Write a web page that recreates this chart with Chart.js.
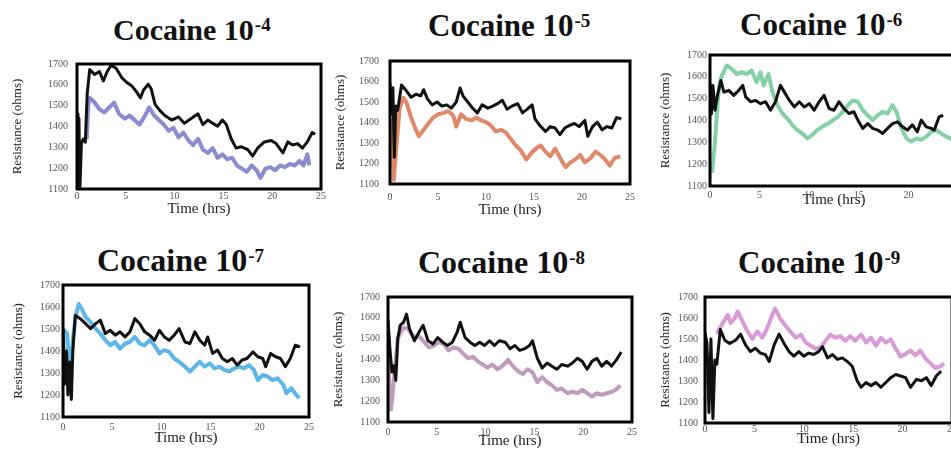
<!DOCTYPE html>
<html>
<head>
<meta charset="utf-8" />
<title>Cocaine resistance</title>
<style>
  body { margin:0; width:951px; height:455px; overflow:hidden; background:#fff; position:relative; }
  canvas { position:absolute; }
  .ttl { position:absolute; font-family:'Liberation Serif', 'Times New Roman', serif; font-weight:bold;
         line-height:30px; white-space:nowrap; color:#111; }
  .ttl sup { font-size:19px; vertical-align:baseline; position:relative; top:-9px; margin-left:1px; }
</style>
</head>
<body>
<div class="ttl" style="left:113px;top:15px;font-size:30px">Cocaine 10<sup>-4</sup></div>
<div class="ttl" style="left:428px;top:11px;font-size:31px">Cocaine 10<sup>-5</sup></div>
<div class="ttl" style="left:740px;top:10px;font-size:31px">Cocaine 10<sup>-6</sup></div>
<div class="ttl" style="left:97px;top:245px;font-size:32px">Cocaine 10<sup>-7</sup></div>
<div class="ttl" style="left:418px;top:247px;font-size:32px">Cocaine 10<sup>-8</sup></div>
<div class="ttl" style="left:738px;top:248px;font-size:31px">Cocaine 10<sup>-9</sup></div>

<canvas id="c1"></canvas>
<canvas id="c2"></canvas>
<canvas id="c3"></canvas>
<canvas id="c4"></canvas>
<canvas id="c5"></canvas>
<canvas id="c6"></canvas>

<script src="https://cdn.jsdelivr.net/npm/chart.js@4.4.1/dist/chart.umd.min.js"></script>
<script>
// tick labels
const timeTicks = [0, 5, 10, 15, 20, 25];
const ohmTicks = [1100, 1200, 1300, 1400, 1500, 1600, 1700];

// 10^-4 : black control, purple
const p1BlackT = [0,0.1,0.2,0.3,0.45,0.65,0.85,1.05,1.3,1.8,2.3,2.7,3.1,3.5,4.0,4.6,5.1,5.6,6.1,6.5,6.8,7.3,7.6,8.0,8.5,9.0,9.7,10.4,11.0,11.7,12.4,12.9,13.4,13.9,14.4,14.9,15.3,15.8,16.3,16.8,17.5,18.0,18.5,19.2,19.9,20.4,21.1,21.6,22.1,22.6,23.1,23.6,24.1,24.4];
const p1BlackR = [1460,1120,1440,1105,1320,1340,1325,1560,1673,1650,1664,1619,1664,1694,1680,1634,1611,1596,1566,1537,1574,1603,1581,1506,1476,1453,1431,1446,1416,1438,1461,1409,1431,1416,1401,1431,1409,1341,1296,1303,1289,1258,1296,1326,1333,1318,1273,1326,1311,1318,1296,1326,1371,1363];
const p1ColT = [1.0,1.15,1.3,1.8,2.3,2.8,3.3,3.8,4.3,4.9,5.4,5.9,6.4,6.9,7.4,7.9,8.4,8.9,9.4,9.9,10.4,10.9,11.4,11.9,12.4,12.9,13.4,13.9,14.4,14.9,15.4,15.9,16.4,16.9,17.4,17.9,18.4,18.8,19.3,19.8,20.3,20.8,21.3,21.8,22.3,22.8,23.2,23.6,23.8];
const p1ColR = [1340,1500,1537,1515,1483,1468,1491,1515,1461,1438,1453,1431,1409,1446,1491,1453,1431,1409,1379,1394,1348,1371,1334,1311,1341,1289,1273,1296,1250,1266,1243,1250,1213,1198,1183,1213,1190,1153,1198,1205,1190,1213,1205,1220,1213,1235,1213,1266,1213];

// 10^-5 : black, orange
const p2BlackT = [0,0.15,0.3,0.45,0.6,0.8,1.2,1.7,2.2,2.7,3.2,3.5,3.9,4.4,4.9,5.4,5.9,6.4,6.9,7.3,7.6,8.1,8.6,9.1,9.6,10.2,10.7,11.2,11.7,12.2,12.7,13.3,13.8,14.3,14.8,15.1,15.6,16.2,16.7,17.2,17.7,18.2,18.7,19.2,19.7,20.3,20.6,21.1,21.6,22.1,22.6,23.1,23.6,24.1];
const p2BlackR = [1590,1440,1570,1230,1480,1460,1583,1555,1523,1538,1530,1560,1515,1486,1500,1480,1486,1470,1500,1568,1530,1500,1470,1447,1486,1470,1480,1492,1508,1465,1480,1492,1447,1465,1486,1418,1386,1356,1380,1373,1341,1373,1386,1395,1380,1410,1333,1380,1402,1364,1380,1373,1424,1418];
const p2ColT = [0,0.2,0.4,0.7,1.0,1.4,1.7,2.2,2.7,3.0,3.5,4.0,4.5,5.0,5.6,6.1,6.6,6.9,7.4,7.9,8.5,9.0,9.5,10.0,10.5,11.0,11.6,12.1,12.6,13.1,13.6,14.2,14.7,15.2,15.7,16.2,16.7,17.2,17.8,18.3,18.8,19.3,19.8,20.3,20.9,21.4,21.9,22.4,22.9,23.4,24.0];
const p2ColR = [1420,1350,1120,1300,1470,1520,1500,1424,1364,1333,1364,1395,1424,1440,1447,1455,1432,1380,1440,1418,1410,1424,1410,1402,1386,1356,1364,1350,1318,1288,1265,1220,1250,1273,1288,1258,1235,1273,1220,1182,1205,1220,1242,1205,1227,1258,1242,1220,1190,1227,1235];

// 10^-6 : black, green
const p3BlackT = [0,0.15,0.3,0.5,0.75,1.1,1.4,1.9,2.4,2.9,3.3,3.6,4.1,4.6,5.1,5.6,6.1,6.6,7.1,7.5,8.0,8.5,9.0,9.5,10.0,10.5,11.0,11.5,12.0,12.5,13.0,13.5,14.0,14.5,15.0,15.4,15.9,16.4,16.9,17.4,17.9,18.4,18.9,19.4,19.9,20.4,20.9,21.3,21.8,22.3,22.6,23.1,23.5];
const p3BlackR = [1570,1430,1560,1447,1515,1583,1530,1538,1515,1538,1561,1508,1486,1492,1477,1486,1447,1486,1561,1530,1492,1462,1486,1462,1477,1447,1486,1515,1455,1447,1486,1455,1432,1440,1394,1364,1386,1364,1356,1341,1364,1386,1394,1371,1356,1380,1348,1402,1371,1364,1356,1417,1424];
const p3ColT = [0.2,0.5,0.8,1.0,1.2,1.7,2.2,2.7,3.2,3.7,4.2,4.7,5.1,5.4,5.9,6.3,6.8,7.3,7.8,8.3,8.8,9.3,9.8,10.3,10.8,11.3,11.9,12.4,12.9,13.4,13.9,14.4,14.9,15.4,15.9,16.4,16.9,17.4,17.9,18.4,18.8,19.3,19.8,20.3,20.8,21.3,21.8,22.3,22.8,23.3,23.8,24.2,24.8];
const p3ColR = [1160,1300,1500,1580,1606,1652,1636,1613,1621,1613,1629,1576,1621,1561,1613,1530,1470,1432,1409,1379,1356,1341,1318,1333,1356,1371,1386,1402,1417,1440,1470,1492,1486,1447,1424,1402,1424,1440,1432,1470,1440,1364,1318,1303,1318,1311,1326,1348,1356,1341,1326,1318,1300];

// 10^-7 : black, blue
const p4BlackT = [0,0.2,0.35,0.5,0.7,0.85,1.0,1.25,1.75,2.3,2.8,3.3,3.8,4.3,4.8,5.3,5.8,6.3,6.8,7.3,7.8,8.3,8.8,9.3,9.8,10.3,10.8,11.3,11.8,12.4,12.9,13.4,13.9,14.4,14.7,15.2,15.7,16.2,16.7,17.2,17.7,18.2,18.7,19.3,19.8,20.3,20.6,21.1,21.6,22.1,22.6,23.1,23.6,24.1];
const p4BlackR = [1500,1250,1400,1200,1350,1180,1400,1562,1547,1524,1502,1524,1540,1479,1494,1472,1487,1464,1487,1547,1524,1487,1472,1449,1494,1464,1449,1472,1502,1441,1434,1487,1449,1426,1464,1389,1404,1366,1351,1366,1336,1359,1366,1396,1374,1366,1329,1389,1374,1366,1329,1366,1426,1419];
const p4ColT = [0,0.4,0.7,1.0,1.3,1.6,1.9,2.3,2.8,3.3,3.8,4.3,4.8,5.3,5.8,6.3,6.8,7.3,7.8,8.3,8.8,9.3,9.8,10.3,10.8,11.3,11.8,12.4,12.9,13.4,13.9,14.4,14.9,15.4,15.9,16.4,16.9,17.4,17.9,18.4,18.9,19.4,19.8,20.3,20.8,21.3,21.8,22.4,22.7,23.2,23.7,24.0];
const p4ColR = [1500,1480,1300,1450,1560,1614,1592,1554,1532,1502,1479,1449,1426,1441,1411,1434,1441,1464,1434,1426,1449,1426,1389,1404,1396,1366,1351,1329,1307,1329,1351,1329,1344,1321,1329,1314,1307,1321,1329,1321,1336,1314,1268,1291,1284,1268,1276,1246,1208,1231,1201,1186];

// 10^-8 : black, mauve
const p5BlackT = [0,0.2,0.4,0.6,0.8,1.0,1.25,1.6,1.9,2.2,2.7,3.2,3.6,4.1,4.6,5.1,5.6,6.1,6.6,7.1,7.4,7.9,8.4,8.9,9.4,9.9,10.4,10.9,11.4,12.0,12.5,13.0,13.5,14.0,14.5,14.8,15.3,15.8,16.3,16.8,17.3,17.8,18.4,18.9,19.4,19.9,20.4,20.9,21.4,21.9,22.4,22.9,23.4,23.9];
const p5BlackR = [1590,1450,1340,1370,1300,1500,1564,1579,1618,1548,1490,1533,1564,1490,1475,1505,1483,1467,1483,1533,1579,1505,1483,1467,1483,1467,1490,1467,1490,1483,1452,1467,1444,1452,1467,1490,1406,1359,1383,1368,1353,1376,1368,1383,1406,1391,1353,1391,1406,1368,1391,1368,1398,1436];
const p5ColT = [0,0.3,0.6,1.0,1.5,2.0,2.7,3.2,3.7,4.2,4.7,5.2,5.7,6.2,6.7,7.2,7.7,8.2,8.7,9.2,9.7,10.2,10.7,11.2,11.7,12.3,12.8,13.3,13.8,14.3,14.8,15.3,15.8,16.3,16.8,17.3,17.8,18.4,18.9,19.4,19.9,20.4,20.9,21.4,21.9,22.4,23.0,23.5,23.8];
const p5ColR = [1400,1160,1300,1500,1550,1550,1504,1511,1483,1458,1467,1483,1475,1444,1458,1452,1428,1406,1413,1391,1376,1361,1376,1353,1368,1398,1368,1345,1330,1353,1338,1291,1315,1291,1276,1254,1261,1238,1246,1238,1254,1238,1222,1238,1230,1238,1246,1261,1276];

// 10^-9 : black, pink
const p6BlackT = [0,0.2,0.4,0.6,0.8,1.0,1.2,1.55,2.0,2.5,3.1,3.6,4.1,4.6,5.1,5.6,6.1,6.5,7.0,7.5,8.0,8.5,9.0,9.5,10.0,10.5,11.0,11.5,11.9,12.4,12.9,13.4,13.9,14.4,14.9,15.4,15.8,16.3,16.8,17.3,17.8,18.3,18.8,19.3,19.8,20.3,20.8,21.4,21.9,22.4,22.9,23.4,23.9];
const p6BlackR = [1530,1480,1150,1500,1120,1400,1380,1545,1494,1479,1494,1523,1472,1440,1456,1433,1426,1393,1472,1523,1479,1440,1418,1440,1418,1433,1426,1440,1463,1410,1426,1403,1410,1393,1370,1301,1270,1293,1278,1293,1270,1293,1316,1331,1324,1316,1270,1308,1301,1316,1278,1324,1347];
const p6ColT = [1.2,1.8,2.3,2.6,3.0,3.3,3.8,4.3,4.8,5.3,5.8,6.3,6.8,7.1,7.6,8.1,8.6,9.2,9.7,10.2,10.7,11.2,11.7,12.2,12.7,13.2,13.7,14.2,14.7,15.2,15.8,16.3,16.8,17.3,17.8,18.3,18.8,19.3,19.8,20.3,20.8,21.3,21.8,22.3,22.8,23.3,23.8,24.2];
const p6ColR = [1526,1576,1614,1576,1598,1631,1583,1537,1500,1537,1506,1552,1614,1645,1598,1567,1537,1506,1521,1483,1468,1454,1460,1491,1521,1506,1514,1491,1514,1491,1521,1483,1506,1468,1506,1483,1498,1454,1416,1430,1445,1422,1445,1408,1385,1362,1369,1385];

// where each plot box sits on the page
const panels = [
  {id:'c1', L:77,  R:321, T:57,  B:189, yTitleX:18,  yGap:9,  xPad:1, xTitle:20, bt:p1BlackT, br:p1BlackR, ct:p1ColT, cr:p1ColR, color:'#8b8bcf'},
  {id:'c2', L:390, R:634, T:52,  B:184, yTitleX:341, yGap:11, xPad:7, xTitle:26, bt:p2BlackT, br:p2BlackR, ct:p2ColT, cr:p2ColR, color:'#e0896a'},
  {id:'c3', L:710, R:958, T:54,  B:186, yTitleX:666, yGap:3,  xPad:3, xTitle:14, bt:p3BlackT, br:p3BlackR, ct:p3ColT, cr:p3ColR, color:'#86d0a6'},
  {id:'c4', L:63,  R:310, T:284, B:417, yTitleX:19,  yGap:3,  xPad:4, xTitle:21, bt:p4BlackT, br:p4BlackR, ct:p4ColT, cr:p4ColR, color:'#5cb6e8'},
  {id:'c5', L:388, R:633, T:291, B:422, yTitleX:339, yGap:8,  xPad:4, xTitle:19, bt:p5BlackT, br:p5BlackR, ct:p5ColT, cr:p5ColR, color:'#c09bbd'},
  {id:'c6', L:705, R:952, T:292, B:423, yTitleX:666, yGap:7,  xPad:0, xTitle:16, bt:p6BlackT, br:p6BlackR, ct:p6ColT, cr:p6ColR, color:'#d99ad8'}
];

const frame = {
  id: 'frame',
  afterDatasetsDraw(chart) {
    const {ctx, chartArea: a} = chart;
    ctx.save();
    ctx.lineWidth = 3;
    ctx.strokeStyle = '#000';
    ctx.strokeRect(a.left, a.top, a.right - a.left, a.bottom - a.top);
    ctx.restore();
  }
};

const serif = "'Liberation Serif', 'Times New Roman', serif";
const plain = v => String(v);

panels.forEach(p => {
  const cv = document.getElementById(p.id);
  const left = p.yTitleX - 8, top = p.T - 8;
  const xH = p.xTitle + 9;
  const w = p.R - left + 8, h = p.B - top + xH;
  cv.style.left = left + 'px';
  cv.style.top = top + 'px';
  cv.width = w; cv.height = h;
  cv.style.width = w + 'px'; cv.style.height = h + 'px';

  new Chart(cv, {
    type: 'line',
    data: {
      datasets: [
        {data: p.bt.map((t, i) => ({x: t, y: p.br[i]})), borderColor: '#111', borderWidth: 3},
        {data: p.ct.map((t, i) => ({x: t, y: p.cr[i]})), borderColor: p.color, borderWidth: 4}
      ]
    },
    options: {
      responsive: false,
      animation: false,
      events: [],
      layout: {padding: {left: 0, top: 8, right: 8, bottom: 0}},
      elements: {point: {radius: 0}, line: {tension: 0, borderJoinStyle: 'round'}},
      plugins: {legend: {display: false}, tooltip: {enabled: false}},
      scales: {
        x: {
          type: 'linear', min: 0, max: 25,
          afterBuildTicks: s => { s.ticks = timeTicks.map(v => ({value: v})); },
          afterFit: s => { s.height = xH; },
          grid: {display: false, drawTicks: false},
          border: {display: false},
          ticks: {padding: p.xPad, maxRotation: 0, color: '#555', callback: plain, font: {family: serif, size: 10}},
          title: {display: true, text: 'Time (hrs)', padding: 0, color: '#222', font: {family: serif, size: 15}}
        },
        y: {
          type: 'linear', min: 1100, max: 1700,
          afterBuildTicks: s => { s.ticks = ohmTicks.map(v => ({value: v})); },
          afterFit: s => { s.width = p.L - left; },
          grid: {display: false, drawTicks: false},
          border: {display: false},
          ticks: {padding: p.yGap, color: '#555', callback: plain, font: {family: serif, size: 10}},
          title: {display: true, text: 'Resistance (ohms)', padding: 0, color: '#222', font: {family: serif, size: 13}}
        }
      }
    },
    plugins: [frame]
  });
});
</script>
</body>
</html>
